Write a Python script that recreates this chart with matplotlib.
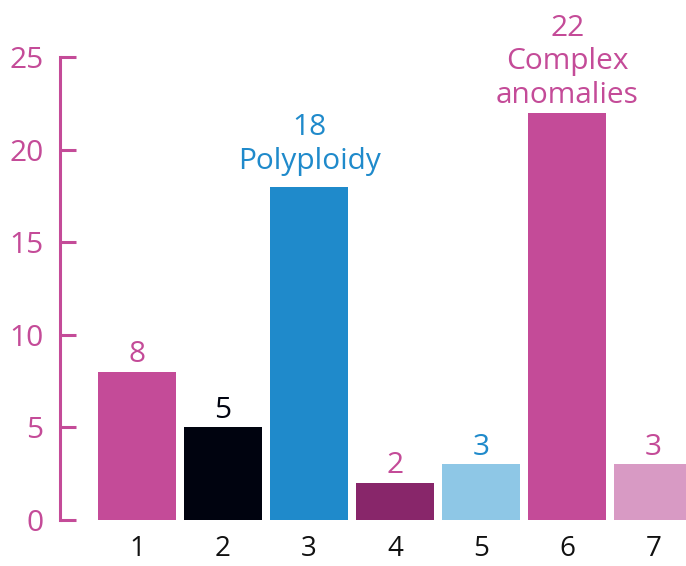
import matplotlib
matplotlib.use("Agg")
import matplotlib.pyplot as plt

plt.rcParams['font.family'] = ['Open Sans', 'DejaVu Sans']

categories = [1, 2, 3, 4, 5, 6, 7]
counts = [8, 5, 18, 2, 3, 22, 3]
labels = ['8', '5', '18\nPolyploidy', '2', '3', '22\nComplex\nanomalies', '3']

bar_colors = ['#c44b98', '#00030f', '#1f8acb', '#88266a', '#8ec7e6', '#c44b98', '#d89ac4']
label_colors = ['#c44b98', '#00030f', '#1f8acb', '#c44b98', '#1f8acb', '#c44b98', '#c44b98']
pink = '#c44b98'

fig = plt.figure(figsize=(6.86, 5.66), dpi=100)
ax = fig.add_axes([60 / 686, 46 / 566, 626 / 686, 463 / 566])

bars = ax.bar(categories, counts, width=0.91, color=bar_colors)

for rect, txt, c in zip(bars, labels, label_colors):
    # lift labels whose last line has descenders so the ink clears the bar
    last = txt.split('\n')[-1]
    lift = 13 if any(ch in last for ch in 'gjpqy') else 7
    ax.annotate(txt, (rect.get_x() + rect.get_width() / 2, rect.get_height()),
                xytext=(0, lift), textcoords='offset points',
                ha='center', va='baseline', fontsize=21.5, color=c,
                linespacing=1.2, annotation_clip=False)

ax.set_xlim(0.105, 7.38)
ax.set_ylim(0, 25)
ax.set_yticks([0, 5, 10, 15, 20, 25])
ax.set_xticks(categories)

for s in ['top', 'right', 'bottom']:
    ax.spines[s].set_visible(False)
ax.spines['left'].set_color(pink)
ax.spines['left'].set_linewidth(2.2)

ax.tick_params(axis='y', direction='in', length=11.5, width=2.2, color=pink,
               labelcolor=pink, labelsize=21.5, pad=12)
ax.tick_params(axis='x', length=0, labelsize=20, labelcolor='#111111', pad=11)

fig.savefig('out.png', dpi=100)
